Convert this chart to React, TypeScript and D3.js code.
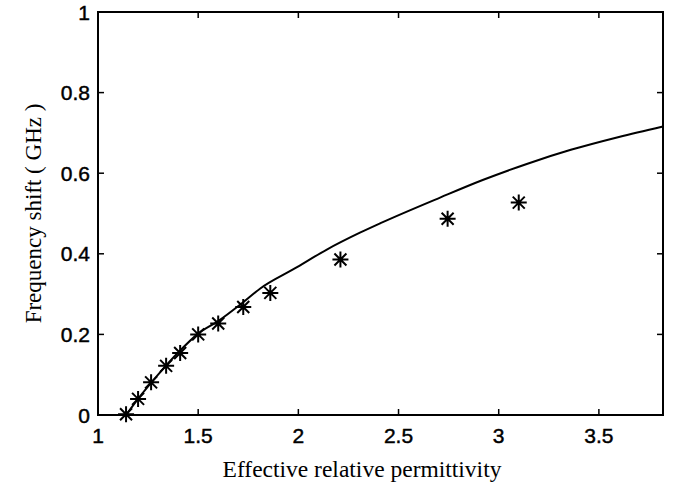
import React, { useEffect, useRef } from 'react';
import * as d3 from 'd3';

// measured points (asterisks)
const measEps = [1.14, 1.2, 1.265, 1.34, 1.41, 1.5, 1.6, 1.725, 1.86, 2.21, 2.745, 3.1];
const measShift = [0.002, 0.04, 0.081, 0.122, 0.154, 0.2, 0.227, 0.268, 0.303, 0.386, 0.487, 0.527];

// theory curve
const curveEps = [1.14, 1.2, 1.3, 1.4, 1.5, 1.6, 1.72, 1.81, 1.98, 2.14, 2.31, 2.41, 2.71, 2.92, 3.14, 3.36, 3.6, 3.82];
const curveShift = [0, 0.04, 0.1, 0.155, 0.202, 0.233, 0.278, 0.314, 0.363, 0.41, 0.453, 0.476, 0.54, 0.583, 0.623, 0.658, 0.69, 0.716];

const xTicks = [1, 1.5, 2, 2.5, 3, 3.5];
const yTicks = [0, 0.2, 0.4, 0.6, 0.8, 1];

const App: React.FC = () => {
  const svgRef = useRef<SVGSVGElement | null>(null);

  useEffect(() => {
    if (!svgRef.current) return;
    const svg = d3.select(svgRef.current);
    svg.selectAll('*').remove();

    const width = 674;
    const height = 485;
    const margin = { top: 12, right: 11, bottom: 70, left: 98 };
    const x0 = margin.left, x1 = width - margin.right;
    const y0 = height - margin.bottom, y1 = margin.top;

    const x = d3.scaleLinear().domain([1, 3.82]).range([x0, x1]);
    const y = d3.scaleLinear().domain([0, 1]).range([y0, y1]);

    const tickFont = '"Liberation Sans", Arial, sans-serif';
    const titleFont = '"Liberation Serif", "Times New Roman", serif';

    // frame
    svg.append('rect')
      .attr('x', x0).attr('y', y1)
      .attr('width', x1 - x0).attr('height', y0 - y1)
      .attr('fill', 'none').attr('stroke', '#000').attr('stroke-width', 2);

    // ticks, inward on all sides
    const tl = 6;
    xTicks.forEach(t => {
      const px = x(t);
      svg.append('line').attr('x1', px).attr('x2', px).attr('y1', y0).attr('y2', y0 - tl)
        .attr('stroke', '#000').attr('stroke-width', 1.5);
      svg.append('line').attr('x1', px).attr('x2', px).attr('y1', y1).attr('y2', y1 + tl)
        .attr('stroke', '#000').attr('stroke-width', 1.5);
      svg.append('text')
        .attr('x', px).attr('y', y0 + 28)
        .attr('text-anchor', 'middle')
        .attr('font-family', tickFont).attr('font-size', 21)
        .attr('stroke', '#000').attr('stroke-width', 0.45)
        .text(String(t));
    });
    yTicks.forEach(t => {
      const py = y(t);
      svg.append('line').attr('x1', x0).attr('x2', x0 + tl).attr('y1', py).attr('y2', py)
        .attr('stroke', '#000').attr('stroke-width', 1.5);
      svg.append('line').attr('x1', x1).attr('x2', x1 - tl).attr('y1', py).attr('y2', py)
        .attr('stroke', '#000').attr('stroke-width', 1.5);
      svg.append('text')
        .attr('x', x0 - 8).attr('y', py + 7.5)
        .attr('text-anchor', 'end')
        .attr('font-family', tickFont).attr('font-size', 21)
        .attr('stroke', '#000').attr('stroke-width', 0.45)
        .text(String(t));
    });

    // axis titles
    svg.append('text')
      .attr('x', 362).attr('y', 477)
      .attr('text-anchor', 'middle')
      .attr('font-family', titleFont).attr('font-size', 23.5)
      .text('Effective relative permittivity');

    svg.append('text')
      .attr('transform', `translate(41,${(y0 + y1) / 2}) rotate(-90)`)
      .attr('text-anchor', 'middle')
      .attr('font-family', titleFont).attr('font-size', 23)
      .text('Frequency shift ( GHz )');

    // curve
    const pts = curveEps.map((e, i) => [e, curveShift[i]] as [number, number]);
    const line = d3.line<[number, number]>()
      .x(d => x(d[0])).y(d => y(d[1]))
      .curve(d3.curveMonotoneX);
    svg.append('path')
      .attr('d', line(pts))
      .attr('fill', 'none').attr('stroke', '#000').attr('stroke-width', 2);

    // asterisk markers
    const r = 8;
    const g = svg.append('g').attr('stroke', '#000').attr('stroke-width', 2);
    measEps.forEach((e, i) => {
      const cx = x(e), cy = y(measShift[i]);
      const d = r * 0.75;
      g.append('path').attr('d',
        `M${cx - r},${cy}L${cx + r},${cy}` +
        `M${cx},${cy - r}L${cx},${cy + r}` +
        `M${cx - d},${cy - d}L${cx + d},${cy + d}` +
        `M${cx - d},${cy + d}L${cx + d},${cy - d}`);
    });
  }, []);

  return (
    <svg
      ref={svgRef}
      width={674}
      height={485}
      style={{ position: 'absolute', left: 0, top: 0, background: '#fff' }}
    />
  );
};

export default App;
